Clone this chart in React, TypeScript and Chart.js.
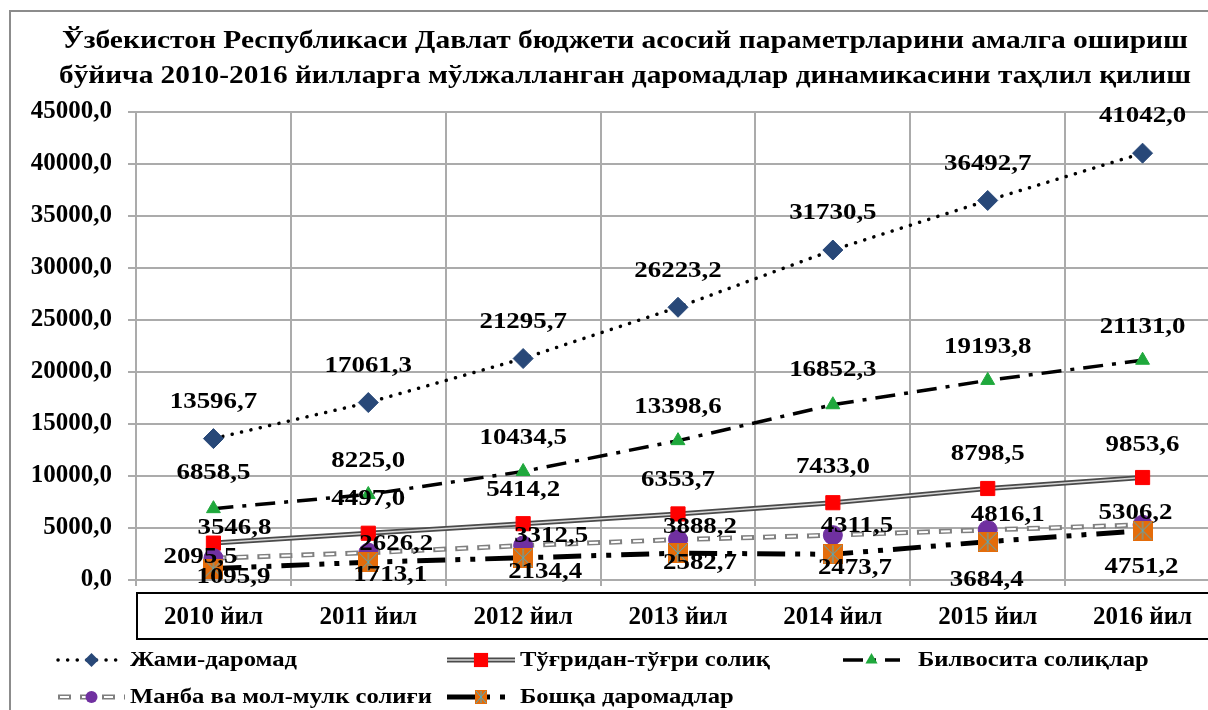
import React, { useEffect, useRef } from 'react';
import { Chart, registerables } from 'chart.js';

Chart.register(...registerables);

const FONT = "'Liberation Serif', 'Times New Roman', serif";

const TITLE_LINES = [
  'Ўзбекистон Республикаси Давлат бюджети асосий параметрларини амалга ошириш',
  'бўйича 2010-2016 йилларга мўлжалланган даромадлар динамикасини таҳлил қилиш',
];
const YEARS = ['2010 йил', '2011 йил', '2012 йил', '2013 йил', '2014 йил', '2015 йил', '2016 йил'];
const TOTAL_REVENUE = [13596.7, 17061.3, 21295.7, 26223.2, 31730.5, 36492.7, 41042.0];
const DIRECT_TAX = [3546.8, 4497.0, 5414.2, 6353.7, 7433.0, 8798.5, 9853.6];
const INDIRECT_TAX = [6858.5, 8225.0, 10434.5, 13398.6, 16852.3, 19193.8, 21131.0];
const PROPERTY_TAX = [2095.5, 2626.2, 3312.5, 3888.2, 4311.5, 4816.1, 5306.2];
const OTHER_REVENUE = [1095.9, 1713.1, 2134.4, 2582.7, 2473.7, 3684.4, 4751.2];
const SERIES_NAMES = [
  'Жами-даромад',
  'Тўғридан-тўғри солиқ',
  'Билвосита солиқлар',
  'Манба ва мол-мулк солиғи',
  'Бошқа даромадлар',
];
const Y_MIN = 0;
const Y_MAX = 45000;
const Y_STEP = 5000;

const fmt = (v: number) => Number(v).toFixed(1).replace('.', ',');

// ---- styles ----
const C_NAVY = '#284878';
const C_RED = '#FF0000';
const C_GREEN = '#1FA83C';
const C_PURPLE = '#7030A0';
const GRID = '#ababab';

const ST = {
  total: { color: '#000', width: 3.5, dash: [0.1, 9.5], cap: 'round' as CanvasLineCap, offset: 0 },
  directOuter: { color: '#4a4a4a', width: 5, dash: [] as number[], cap: 'butt' as CanvasLineCap, offset: 0 },
  directInner: { color: '#d8d8d8', width: 1.5, dash: [] as number[], cap: 'butt' as CanvasLineCap, offset: 0 },
  indirect: { color: '#000', width: 3.5, dash: [20, 9, 4, 9], cap: 'butt' as CanvasLineCap, offset: 0 },
  propOuter: { color: '#7f7f7f', width: 5, dash: [13, 9], cap: 'butt' as CanvasLineCap, offset: 0 },
  propInner: { color: '#ffffff', width: 2, dash: [9, 13], cap: 'butt' as CanvasLineCap, offset: -2 },
  other: { color: '#000', width: 5, dash: [28, 10, 5, 10, 5, 10], cap: 'butt' as CanvasLineCap, offset: 0 },
};

// label offsets relative to each point (dx, dy)
const LABEL_STYLE = [
  { ds: 0, values: TOTAL_REVENUE, dx: [0, 0, 0, 0, 0, 0, 0], dy: [-37, -37, -37, -36, -37, -37, -37] },
  { ds: 3, values: DIRECT_TAX, dx: [21, 0, 0, 0, 0, 0, 0], dy: [-15, -34, -34, -34, -36, -35, -33] },
  { ds: 4, values: INDIRECT_TAX, dx: [0, 0, 0, 0, 0, 0, 0], dy: [-36, -34, -34, -34, -35, -34, -33] },
  { ds: 7, values: PROPERTY_TAX, dx: [-13, 28, 28, 22, 24, 20, -7], dy: [-1, -9, -10, -13, -9, -15, -12] },
  { ds: 8, values: OTHER_REVENUE, dx: [20, 22, 22, 22, 22, -1, -1], dy: [8, 13, 14, 10, 14, 38, 36] },
];

function makeOtherMarker(w: number, h: number): HTMLCanvasElement {
  const c = document.createElement('canvas');
  c.width = w;
  c.height = h;
  const g = c.getContext('2d')!;
  g.fillStyle = '#E46C0A';
  g.fillRect(0, 0, w, h);
  g.strokeStyle = '#4BACC6';
  g.lineWidth = 1;
  g.beginPath();
  g.moveTo(1, 1);
  g.lineTo(w - 1, h - 1);
  g.moveTo(w - 1, 1);
  g.lineTo(1, h - 1);
  g.moveTo(w / 2, 1);
  g.lineTo(w / 2, h - 1);
  g.stroke();
  return c;
}

function drawMarker(ctx: CanvasRenderingContext2D, kind: string, x: number, y: number, r: number, img?: HTMLCanvasElement) {
  ctx.save();
  ctx.setLineDash([]);
  ctx.beginPath();
  if (kind === 'diamond') {
    ctx.fillStyle = C_NAVY;
    ctx.moveTo(x - r, y);
    ctx.lineTo(x, y - r);
    ctx.lineTo(x + r, y);
    ctx.lineTo(x, y + r);
    ctx.closePath();
    ctx.fill();
  } else if (kind === 'square') {
    ctx.fillStyle = C_RED;
    const s = r * Math.SQRT1_2;
    ctx.fillRect(x - s, y - s, 2 * s, 2 * s);
  } else if (kind === 'triangle') {
    ctx.fillStyle = C_GREEN;
    ctx.moveTo(x, y - r);
    ctx.lineTo(x + r * 0.866, y + r * 0.5);
    ctx.lineTo(x - r * 0.866, y + r * 0.5);
    ctx.closePath();
    ctx.fill();
  } else if (kind === 'circle') {
    ctx.fillStyle = C_PURPLE;
    ctx.arc(x, y, r, 0, Math.PI * 2);
    ctx.fill();
  } else if (kind === 'other' && img) {
    ctx.drawImage(img, x - img.width / 2, y - img.height / 2);
  }
  ctx.restore();
}

function strokeSample(ctx: CanvasRenderingContext2D, st: any, x0: number, x1: number, y: number) {
  ctx.save();
  ctx.strokeStyle = st.color;
  ctx.lineWidth = st.width;
  ctx.setLineDash(st.dash);
  ctx.lineDashOffset = st.offset;
  ctx.lineCap = st.cap;
  ctx.beginPath();
  ctx.moveTo(x0, y);
  ctx.lineTo(x1, y);
  ctx.stroke();
  ctx.restore();
}

function stretchedText(ctx: CanvasRenderingContext2D, text: string, x: number, y: number, sx: number) {
  ctx.save();
  ctx.translate(x, y);
  ctx.scale(sx, 1);
  ctx.fillText(text, 0, 0);
  ctx.restore();
}

export default function App() {
  const ref = useRef<HTMLCanvasElement | null>(null);

  useEffect(() => {
    if (!ref.current) return;
    const otherImg = makeOtherMarker(20, 20);
    const otherImgSmall = makeOtherMarker(12, 14);

    const lineDs = (data: number[], st: any, extra: any) => ({
      data,
      borderColor: st.color,
      borderWidth: st.width,
      borderDash: st.dash,
      borderDashOffset: st.offset,
      borderCapStyle: st.cap,
      tension: 0,
      fill: false,
      pointRadius: 0,
      pointHitRadius: 0,
      ...extra,
    });

    const labelsPlugin = {
      id: 'valueLabels',
      afterDatasetsDraw(chart: any) {
        const ctx: CanvasRenderingContext2D = chart.ctx;
        ctx.save();
        ctx.fillStyle = '#000';
        ctx.font = `bold 24px ${FONT}`;
        ctx.textAlign = 'center';
        ctx.textBaseline = 'middle';
        LABEL_STYLE.forEach((ls) => {
          const meta = chart.getDatasetMeta(ls.ds);
          meta.data.forEach((pt: any, i: number) => {
            stretchedText(ctx, fmt(ls.values[i]), pt.x + ls.dx[i], pt.y + ls.dy[i], 1.12);
          });
        });
        ctx.restore();
      },
    };

    const decorPlugin = {
      id: 'decor',
      afterDraw(chart: any) {
        const ctx: CanvasRenderingContext2D = chart.ctx;
        const area = chart.chartArea;
        ctx.save();
        // title
        ctx.fillStyle = '#000';
        ctx.font = `bold 26px ${FONT}`;
        ctx.textAlign = 'center';
        ctx.textBaseline = 'alphabetic';
        const targets = [1126, 1132];
        const baselines = [48, 83];
        TITLE_LINES.forEach((t, i) => {
          const w = ctx.measureText(t).width;
          stretchedText(ctx, t, 625, baselines[i], targets[i] / w);
        });
        // x-axis label box
        ctx.strokeStyle = '#000';
        ctx.lineWidth = 2;
        ctx.strokeRect(area.left + 1, area.bottom + 13, 1300, 46);
        // legend
        const rows = [660, 697];
        const items = [
          { row: 0, x0: 58, x1: 125, tx: 130, lines: [ST.total], marker: 'diamond', r: 7 },
          { row: 0, x0: 447, x1: 515, tx: 520, lines: [ST.directOuter, ST.directInner], marker: 'square', r: 10 },
          { row: 0, x0: 843, x1: 900, tx: 918, lines: [ST.indirect], marker: 'triangle', r: 7 },
          { row: 1, x0: 58, x1: 125, tx: 130, lines: [ST.propOuter, ST.propInner], marker: 'circle', r: 6 },
          { row: 1, x0: 447, x1: 515, tx: 520, lines: [ST.other], marker: 'other', r: 7 },
        ];
        ctx.font = `bold 22px ${FONT}`;
        ctx.textAlign = 'left';
        ctx.textBaseline = 'middle';
        items.forEach((it, i) => {
          const y = rows[it.row];
          it.lines.forEach((st) => strokeSample(ctx, st, it.x0, it.x1, y));
          drawMarker(ctx, it.marker, (it.x0 + it.x1) / 2, y, it.r, otherImgSmall);
          ctx.fillStyle = '#000';
          stretchedText(ctx, SERIES_NAMES[i], it.tx, y, 1.12);
        });
        ctx.restore();
      },
    };

    const chart = new Chart(ref.current, {
      type: 'line',
      data: {
        labels: YEARS,
        datasets: [
          lineDs(TOTAL_REVENUE, ST.total, {
            label: SERIES_NAMES[0], order: 50,
            pointRadius: 10, pointStyle: 'rectRot', pointBackgroundColor: C_NAVY, pointBorderColor: C_NAVY, pointBorderWidth: 1,
          }),
          lineDs(DIRECT_TAX, ST.directOuter, { label: SERIES_NAMES[1], order: 42 }),
          lineDs(DIRECT_TAX, ST.directInner, { label: SERIES_NAMES[1], order: 41 }),
          {
            label: SERIES_NAMES[1], data: DIRECT_TAX, showLine: false, order: 40,
            pointRadius: 10, pointStyle: 'rect', pointBackgroundColor: C_RED, pointBorderColor: C_RED, pointBorderWidth: 1,
          },
          lineDs(INDIRECT_TAX, ST.indirect, {
            label: SERIES_NAMES[2], order: 30,
            pointRadius: 8, pointStyle: 'triangle', pointBackgroundColor: C_GREEN, pointBorderColor: C_GREEN, pointBorderWidth: 1,
          }),
          lineDs(PROPERTY_TAX, ST.propOuter, { label: SERIES_NAMES[3], order: 22 }),
          lineDs(PROPERTY_TAX, ST.propInner, { label: SERIES_NAMES[3], order: 21 }),
          {
            label: SERIES_NAMES[3], data: PROPERTY_TAX, showLine: false, order: 20,
            pointRadius: 9.5, pointStyle: 'circle', pointBackgroundColor: C_PURPLE, pointBorderColor: C_PURPLE, pointBorderWidth: 1,
          },
          lineDs(OTHER_REVENUE, ST.other, {
            label: SERIES_NAMES[4], order: 10,
            pointRadius: 10, pointStyle: otherImg,
          }),
        ] as any,
      },
      options: {
        responsive: false,
        animation: false,
        events: [],
        layout: { padding: { left: 0, right: 20, top: 112, bottom: 0 } },
        plugins: {
          legend: { display: false },
          title: { display: false },
          tooltip: { enabled: false },
        },
        scales: {
          x: {
            type: 'category',
            offset: true,
            grid: { offset: true, color: GRID, lineWidth: 2, tickLength: 6, drawTicks: true },
            border: { color: GRID, width: 2 },
            ticks: {
              color: '#000',
              font: { family: FONT, size: 25, weight: 'bold' },
              padding: 17,
              maxRotation: 0,
              autoSkip: false,
            },
            afterFit: (s: any) => { s.height = 130; },
          },
          y: {
            min: Y_MIN,
            max: Y_MAX,
            grid: { color: GRID, lineWidth: 2, tickLength: 8 },
            border: { color: GRID, width: 2 },
            ticks: {
              stepSize: Y_STEP,
              color: '#000',
              font: { family: FONT, size: 25, weight: 'bold' },
              padding: 16,
              callback: (v: any) => fmt(v),
            },
            afterFit: (s: any) => { s.width = 136; },
          },
        },
      } as any,
      plugins: [labelsPlugin, decorPlugin],
    });
    return () => chart.destroy();
  }, []);

  return (
    <div style={{ position: 'fixed', left: 0, top: 0, width: 1208, height: 710, overflow: 'hidden', background: '#fff' }}>
      <canvas ref={ref} width={1240} height={710} style={{ position: 'absolute', left: 0, top: 0, width: 1240, height: 710 }} />
      <div
        style={{
          position: 'absolute', left: 9, top: 10, width: 1400, height: 900,
          border: '2px solid #8c8c8c', pointerEvents: 'none', boxSizing: 'border-box',
        }}
      />
    </div>
  );
}
